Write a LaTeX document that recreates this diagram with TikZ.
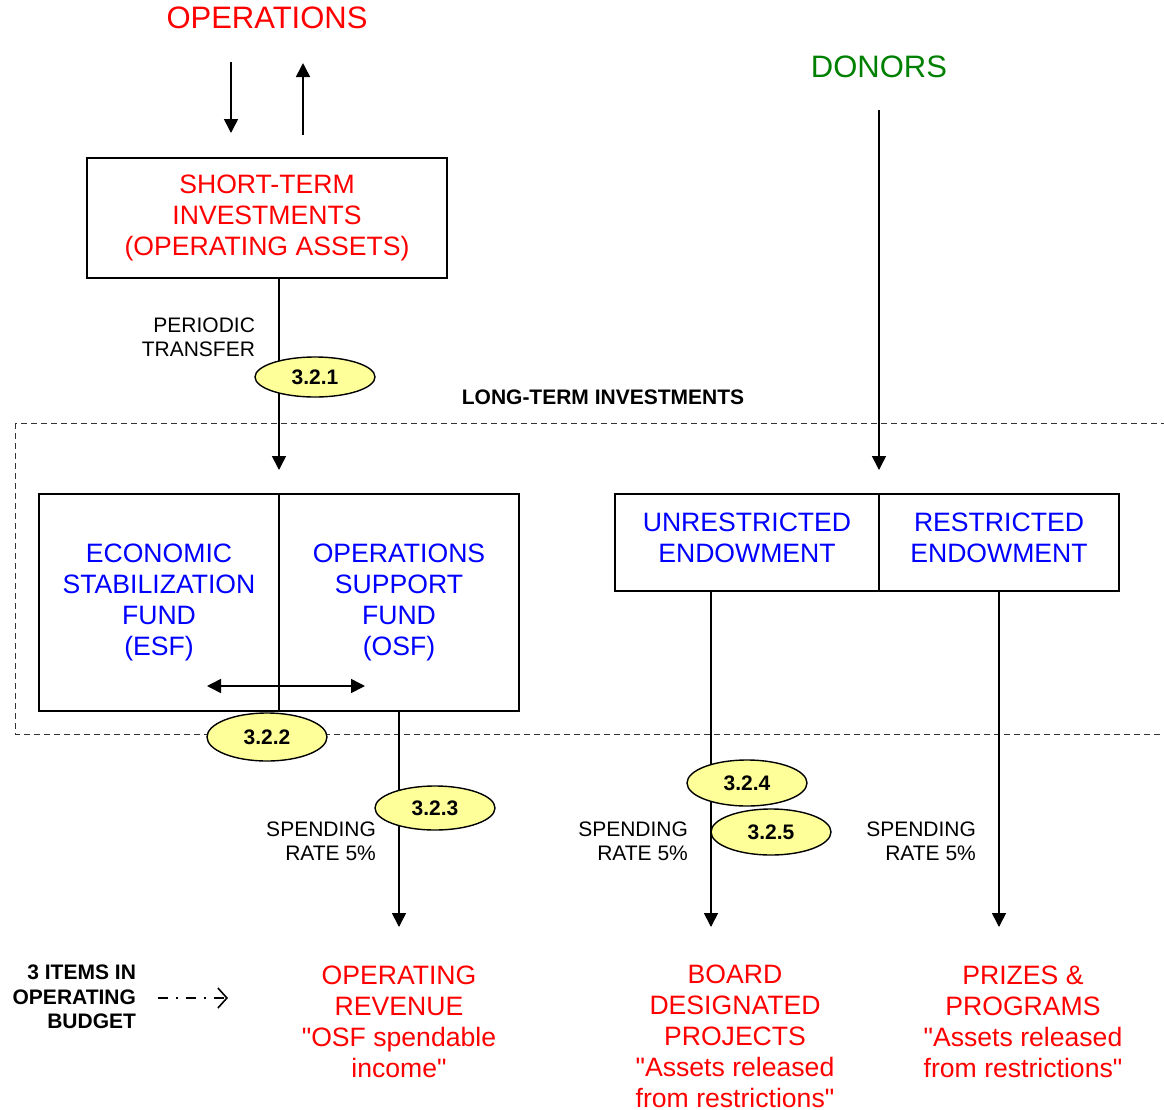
\documentclass[tikz,border=0pt]{standalone}
\usepackage{fontspec}
\setmainfont{Liberation Sans}
\usepackage{tikz}
\usepackage{xcolor}
\usetikzlibrary{arrows.meta, positioning, shapes.geometric, calc}
\definecolor{ovalyellow}{RGB}{255,255,153}
\definecolor{donorgreen}{RGB}{0,128,0}

\begin{document}
\begin{tikzpicture}[x=0.5pt, y=-0.5pt,
  fundbox/.style={draw, line width=0.8pt, align=center, inner sep=0pt, text=blue, font=\fontsize{13.3}{15.5}\selectfont},
  fundtext/.style={align=center, inner sep=0pt, text=blue, font=\fontsize{13.3}{15.5}\selectfont},
  headlabel/.style={font=\fontsize{15.5}{18}\selectfont},
  bigtext/.style={align=center, text=red, font=\fontsize{13.3}{15.5}\selectfont},
  smalllabel/.style={align=right, font=\fontsize{10.5}{12}\selectfont},
  boldlabel/.style={font=\fontsize{10.5}{12.3}\selectfont\bfseries},
  stepnum/.style={ellipse, draw, line width=0.7pt, fill=ovalyellow, minimum width=60pt, minimum height=22pt, inner sep=0pt, font=\fontsize{10.5}{12}\selectfont\bfseries},
  flow/.style={line width=0.8pt, -{Triangle[length=7pt, width=7pt]}},
]
\useasboundingbox (0,0) rectangle (1164,1110);

% Long-term investments (dashed frame)
\draw[dash pattern=on 3pt off 2pt, line width=0.5pt, black!80] (15,423) rectangle (1180,734);
\node[boldlabel] (ltlabel) at (603,397) {LONG-TERM INVESTMENTS};

% Operations and short-term investments
\node[headlabel, text=red] (ops) at (267,18) {OPERATIONS};
\node[fundbox, text=red, minimum width=180pt, minimum height=60pt] (sti) at (267,218) {SHORT-TERM\\INVESTMENTS\\(OPERATING ASSETS)};
\coordinate (opsdown) at (231,62);
\coordinate (stidown) at (231,133);
\coordinate (opsup) at (303,63);
\coordinate (stiup) at (303,135);
\draw[flow] (opsdown) -- (stidown);
\draw[flow] (stiup) -- (opsup);

% Donors
\node[headlabel, text=donorgreen] (donors) at (879,67) {DONORS};
\coordinate (dnstart) at (879,110);
\coordinate (dnend) at (879,470);
\draw[flow] (dnstart) -- (dnend);

% Fund boxes
\node[fundbox, minimum width=120pt, minimum height=108.5pt] (esf) at (159,602.5) {ECONOMIC\\STABILIZATION\\FUND\\(ESF)};
\node[fundbox, minimum width=120pt, minimum height=108.5pt] (osf) at (399,602.5) {OPERATIONS\\SUPPORT\\FUND\\(OSF)};
\node[fundbox, minimum width=132pt, minimum height=48.5pt] (unres) at (747,542.5) {};
\node[fundbox, minimum width=120pt, minimum height=48.5pt] (rest) at (999,542.5) {};
\node[fundtext] (unrestxt) at (747,538) {UNRESTRICTED\\ENDOWMENT};
\node[fundtext] (resttxt) at (999,538) {RESTRICTED\\ENDOWMENT};

% Periodic transfer
\coordinate (ptend) at (279,470);
\draw[flow] (sti.south -| ptend) -- (ptend);
\node[smalllabel, anchor=east] (ptlabel) at (262,337) {PERIODIC\\TRANSFER};

% ESF <-> OSF
\coordinate (swapl) at (207,686);
\coordinate (swapr) at (365,686);
\draw[line width=0.8pt, {Triangle[length=7pt, width=7pt]}-{Triangle[length=7pt, width=7pt]}] (swapl) -- (swapr);

% Spending flows
\foreach \src/\x/\nm in {osf/399/a, unres/711/b, rest/999/c} {
  \coordinate (spend\nm) at (\x,927);
  \draw[flow] (\src.south -| spend\nm) -- (spend\nm);
  \node[smalllabel, anchor=east] (rate\nm) at (\x-16,841) {SPENDING\\RATE 5\%};
}

% Step numbers
\node[stepnum, minimum height=20pt] (s321) at (315,377) {3.2.1};
\node[stepnum, minimum height=24pt] (s322) at (267,737) {3.2.2};
\node[stepnum] (s323) at (435,808) {3.2.3};
\node[stepnum, minimum height=23pt] (s324) at (747,783) {3.2.4};
\node[stepnum, minimum height=23pt] (s325) at (771,832) {3.2.5};

% Operating budget items
\node[bigtext] (oprev) at (399,1022) {OPERATING\\REVENUE\\\textquotedbl OSF spendable\\income\textquotedbl};
\node[bigtext] (board) at (735,1036) {BOARD\\DESIGNATED\\PROJECTS\\\textquotedbl Assets released\\from restrictions\textquotedbl};
\node[bigtext] (prizes) at (1023,1022) {PRIZES \&\\PROGRAMS\\\textquotedbl Assets released\\from restrictions\textquotedbl};

\node[boldlabel, align=right, anchor=east] (items) at (143,997) {3 ITEMS IN\\OPERATING\\BUDGET};
\coordinate (itemsend) at (228,998);
\draw[line width=0.8pt, dash pattern=on 5pt off 4pt on 1pt off 4pt, -{Straight Barb[length=4.5pt, width=10pt]}] (items.east |- itemsend) ++(15,0) -- (itemsend);

\end{tikzpicture}
\end{document}
